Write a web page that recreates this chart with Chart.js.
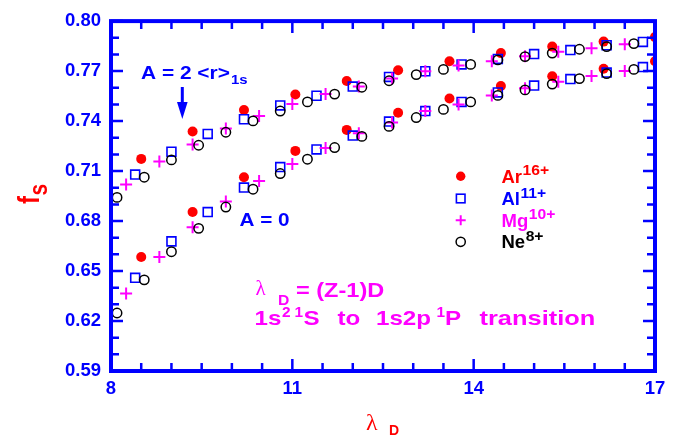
<!DOCTYPE html>
<html>
<head>
<meta charset="utf-8">
<script src="https://cdn.jsdelivr.net/npm/chart.js@4.4.0/dist/chart.umd.min.js"></script>
<style>
  html, body { margin: 0; padding: 0; background: #fff; }
  #c { display: block; }
</style>
</head>
<body>
<canvas id="c" width="681" height="444"></canvas>
<script>
// lambda_D values per ion, and f_s for the two curves (A = 2<r>1s upper, A = 0 lower)
const arX = [8.5, 9.35, 10.2, 11.05, 11.9, 12.75, 13.6, 14.45, 15.3, 16.15, 17.0];
const arUpper = [0.7173, 0.7337, 0.7466, 0.7560, 0.7640, 0.7705, 0.7759, 0.7808, 0.7847, 0.7877, 0.7904];
const arLower = [0.6584, 0.6854, 0.7063, 0.7221, 0.7347, 0.7450, 0.7535, 0.7611, 0.7669, 0.7714, 0.7759];

const alX = [8.4, 9.0, 9.6, 10.2, 10.8, 11.4, 12.0, 12.6, 13.2, 13.8, 14.4, 15.0, 15.6, 16.2, 16.8];
const alUpper = [0.7079, 0.7216, 0.7323, 0.7411, 0.7494, 0.7552, 0.7607, 0.7665, 0.7699, 0.7740, 0.7773, 0.7802, 0.7826, 0.7855, 0.7875];
const alLower = [0.6459, 0.6678, 0.6854, 0.7001, 0.7124, 0.7230, 0.7313, 0.7397, 0.7460, 0.7515, 0.7572, 0.7613, 0.7652, 0.7691, 0.7724];

const mgX = [8.25, 8.8, 9.35, 9.9, 10.45, 11.0, 11.55, 12.1, 12.65, 13.2, 13.75, 14.3, 14.85, 15.4, 15.95, 16.5];
const mgUpper = [0.7020, 0.7157, 0.7260, 0.7356, 0.7431, 0.7503, 0.7562, 0.7607, 0.7655, 0.7699, 0.7734, 0.7759, 0.7789, 0.7816, 0.7837, 0.7861];
const mgLower = [0.6365, 0.6584, 0.6762, 0.6918, 0.7040, 0.7142, 0.7239, 0.7327, 0.7392, 0.7460, 0.7499, 0.7554, 0.7597, 0.7636, 0.7671, 0.7700];

const neX = [8.1, 8.55, 9.0, 9.45, 9.9, 10.35, 10.8, 11.25, 11.7, 12.15, 12.6, 13.05, 13.5, 13.95, 14.4, 14.85, 15.3, 15.75, 16.2, 16.65];
const neUpper = [0.6942, 0.7063, 0.7167, 0.7255, 0.7333, 0.7401, 0.7460, 0.7515, 0.7562, 0.7603, 0.7642, 0.7679, 0.7710, 0.7740, 0.7767, 0.7787, 0.7808, 0.7831, 0.7847, 0.7865];
const neLower = [0.6248, 0.6447, 0.6616, 0.6756, 0.6884, 0.6991, 0.7085, 0.7171, 0.7241, 0.7308, 0.7368, 0.7421, 0.7470, 0.7515, 0.7554, 0.7587, 0.7622, 0.7655, 0.7685, 0.7710];

const xTickLabels = ['8', '11', '14', '17'];
const yTickLabels = ['0.59', '0.62', '0.65', '0.68', '0.71', '0.74', '0.77', '0.80'];

const BLUE = '#0000ff';
const RED = '#ff0000';
const MAGENTA = '#ff00ff';
const FONT = '"Liberation Sans", Arial, Helvetica, sans-serif';
const SERIF = '"Liberation Serif", "Times New Roman", serif';

const zip = (xs, ys) => xs.map((x, i) => ({ x: x, y: ys[i] }));

const isMajorX = v => xTickLabels.includes(String(Math.round(v * 100) / 100));
const isMajorY = v => yTickLabels.includes(v.toFixed(2));

const ions = [
  { name: 'Ne', x: neX, up: neUpper, lo: neLower, style: 'circle', r: 4.7, bg: 'rgba(0,0,0,0)', bc: '#000', bw: 1.5 },
  { name: 'Mg', x: mgX, up: mgUpper, lo: mgLower, style: 'cross', r: 6, bg: MAGENTA, bc: MAGENTA, bw: 2 },
  { name: 'Al', x: alX, up: alUpper, lo: alLower, style: 'rect', r: 6.3, bg: 'rgba(0,0,0,0)', bc: BLUE, bw: 1.6 },
  { name: 'Ar', x: arX, up: arUpper, lo: arLower, style: 'circle', r: 5, bg: RED, bc: RED, bw: 0 },
];

const datasets = [];
ions.forEach((ion, i) => {
  [ion.up, ion.lo].forEach(vals => {
    datasets.push({
      label: ion.name,
      data: zip(ion.x, vals),
      order: i,
      pointStyle: ion.style,
      pointRadius: ion.r,
      pointHoverRadius: ion.r,
      pointBackgroundColor: ion.bg,
      pointBorderColor: ion.bc,
      pointBorderWidth: ion.bw,
      showLine: false,
      clip: 0,
    });
  });
});

// draw text with optional horizontal stretch, returns x after the text
function drawText(ctx, str, x, y, size, color, opts) {
  opts = opts || {};
  const sx = opts.sx || 1;
  ctx.save();
  ctx.font = (opts.weight || 'bold') + ' ' + size + 'px ' + (opts.family || FONT);
  ctx.fillStyle = color;
  ctx.textAlign = 'left';
  ctx.textBaseline = 'alphabetic';
  ctx.translate(x, y);
  ctx.scale(sx, 1);
  ctx.fillText(str, 0, 0);
  const w = ctx.measureText(str).width * sx;
  ctx.restore();
  return x + w;
}

function legendMarker(ctx, style, x, y) {
  ctx.save();
  ctx.beginPath();
  if (style === 'dot') {
    ctx.fillStyle = RED;
    ctx.arc(x, y, 4.7, 0, Math.PI * 2);
    ctx.fill();
  } else if (style === 'square') {
    ctx.strokeStyle = BLUE;
    ctx.lineWidth = 1.6;
    ctx.strokeRect(x - 4.3, y - 4.3, 8.6, 8.6);
  } else if (style === 'plus') {
    ctx.strokeStyle = MAGENTA;
    ctx.lineWidth = 2;
    ctx.moveTo(x - 5, y); ctx.lineTo(x + 5, y);
    ctx.moveTo(x, y - 5); ctx.lineTo(x, y + 5);
    ctx.stroke();
  } else {
    ctx.strokeStyle = '#000';
    ctx.lineWidth = 1.5;
    ctx.arc(x, y, 4.6, 0, Math.PI * 2);
    ctx.stroke();
  }
  ctx.restore();
}

// blue frame with inward ticks on all four sides
const framePlugin = {
  id: 'frame',
  afterDatasetsDraw(chart) {
    const { ctx, chartArea: a, scales } = chart;
    ctx.save();
    ctx.strokeStyle = BLUE;
    ctx.lineWidth = 2.5;
    ctx.beginPath();
    scales.x.ticks.forEach(t => {
      const px = scales.x.getPixelForValue(t.value);
      const len = isMajorX(t.value) ? 12 : 8;
      ctx.moveTo(px, a.bottom); ctx.lineTo(px, a.bottom - len);
      ctx.moveTo(px, a.top); ctx.lineTo(px, a.top + len);
    });
    scales.y.ticks.forEach(t => {
      const py = scales.y.getPixelForValue(t.value);
      const len = isMajorY(t.value) ? 12 : 8;
      ctx.moveTo(a.left, py); ctx.lineTo(a.left + len, py);
      ctx.moveTo(a.right, py); ctx.lineTo(a.right - len, py);
    });
    ctx.stroke();
    ctx.lineWidth = 4;
    ctx.strokeRect(a.left, a.top, a.right - a.left, a.bottom - a.top);
    ctx.restore();
  }
};

// titles, annotations and the legend
const notesPlugin = {
  id: 'notes',
  afterDraw(chart) {
    const ctx = chart.ctx;

    // y title: f with subscript s, rotated
    ctx.save();
    ctx.translate(39, 204);
    ctx.rotate(-Math.PI / 2);
    ctx.scale(1, 1.25);
    ctx.fillStyle = RED;
    ctx.font = 'bold 24px ' + FONT;
    ctx.fillText('f', 0, 0);
    const fw = ctx.measureText('f').width;
    ctx.font = 'bold 21px ' + FONT;
    ctx.fillText('s', fw + 0.5, 6);
    ctx.restore();

    // x title: lambda_D
    drawText(ctx, 'λ', 366, 430, 24, RED, { weight: 'normal', family: SERIF });
    drawText(ctx, 'D', 389, 435, 14, RED);

    // A = 2 <r>1s with arrow
    let x = drawText(ctx, 'A = 2 <r>', 141, 78.5, 18.5, BLUE, { sx: 1.13 });
    drawText(ctx, '1s', x + 1, 83.5, 13, BLUE, { sx: 1.15 });
    ctx.save();
    ctx.strokeStyle = BLUE;
    ctx.fillStyle = BLUE;
    ctx.lineWidth = 3;
    ctx.beginPath();
    ctx.moveTo(182.3, 87); ctx.lineTo(182.3, 104);
    ctx.stroke();
    ctx.beginPath();
    ctx.moveTo(177, 102); ctx.lineTo(187.6, 102); ctx.lineTo(182.3, 119);
    ctx.closePath();
    ctx.fill();
    ctx.restore();

    // A = 0
    drawText(ctx, 'A = 0', 239.5, 225.7, 18.5, BLUE, { sx: 1.12 });

    // lambda_D = (Z-1)D
    drawText(ctx, 'λ', 255.5, 295, 21, MAGENTA, { weight: 'normal', family: SERIF });
    drawText(ctx, 'D', 278, 305, 14, MAGENTA, { sx: 1.12 });
    drawText(ctx, '= (Z-1)D', 296, 297, 21, MAGENTA, { sx: 1.12 });

    // 1s2 1S to 1s2p 1P transition
    const b = 325, sb = 317;
    drawText(ctx, '1s', 254.5, b, 21, MAGENTA, { sx: 1.15 });
    drawText(ctx, '2', 282, sb, 14, MAGENTA, { sx: 1.1 });
    drawText(ctx, '1', 294.5, sb, 14, MAGENTA, { sx: 1.1 });
    drawText(ctx, 'S', 303.5, b, 21, MAGENTA, { sx: 1.15 });
    drawText(ctx, 'to', 337.5, b, 21, MAGENTA, { sx: 1.15 });
    drawText(ctx, '1s2p', 376, b, 21, MAGENTA, { sx: 1.15 });
    drawText(ctx, '1', 436.5, sb, 14, MAGENTA, { sx: 1.1 });
    drawText(ctx, 'P', 445, b, 21, MAGENTA, { sx: 1.15 });
    drawText(ctx, 'transition', 479.5, b, 21, MAGENTA, { sx: 1.21 });

    // legend
    const rows = [
      { m: 'dot', name: 'Ar', sup: '16+', color: RED, y: 182.7 },
      { m: 'square', name: 'Al', sup: '11+', color: BLUE, y: 205 },
      { m: 'plus', name: 'Mg', sup: '10+', color: MAGENTA, y: 226.7 },
      { m: 'circle', name: 'Ne', sup: '8+', color: '#000', y: 248.3 },
    ];
    rows.forEach(r => {
      legendMarker(ctx, r.m, 460.7, r.y - 6.5);
      const e = drawText(ctx, r.name, 501.5, r.y, 18.5, r.color);
      drawText(ctx, r.sup, e + 0.5, r.y - 7.5, 14, r.color, { sx: 1.12 });
    });
  }
};

const tickFont = { family: FONT, size: 18.5, weight: 'bold' };

new Chart(document.getElementById('c'), {
  type: 'scatter',
  data: { datasets: datasets },
  options: {
    responsive: false,
    animation: false,
    events: [],
    layout: { padding: { top: 13, right: 26, left: 0, bottom: 0 } },
    plugins: { legend: { display: false }, tooltip: { enabled: false } },
    scales: {
      x: {
        type: 'linear',
        min: 8,
        max: 17,
        grid: { display: false, drawTicks: false },
        border: { display: false },
        ticks: {
          stepSize: 0.5,
          autoSkip: false,
          maxRotation: 0,
          padding: 7,
          color: BLUE,
          font: tickFont,
          callback: v => isMajorX(v) ? String(Math.round(v)) : '',
        },
        afterFit: s => { s.height = 73; },
      },
      y: {
        type: 'linear',
        min: 0.59,
        max: 0.80,
        grid: { display: false, drawTicks: false },
        border: { display: false },
        ticks: {
          stepSize: 0.01,
          autoSkip: false,
          padding: 10,
          color: BLUE,
          font: tickFont,
          callback: v => isMajorY(v) ? v.toFixed(2) : '',
        },
        afterFit: s => { s.width = 111; },
      },
    },
  },
  plugins: [framePlugin, notesPlugin],
});
</script>
</body>
</html>
